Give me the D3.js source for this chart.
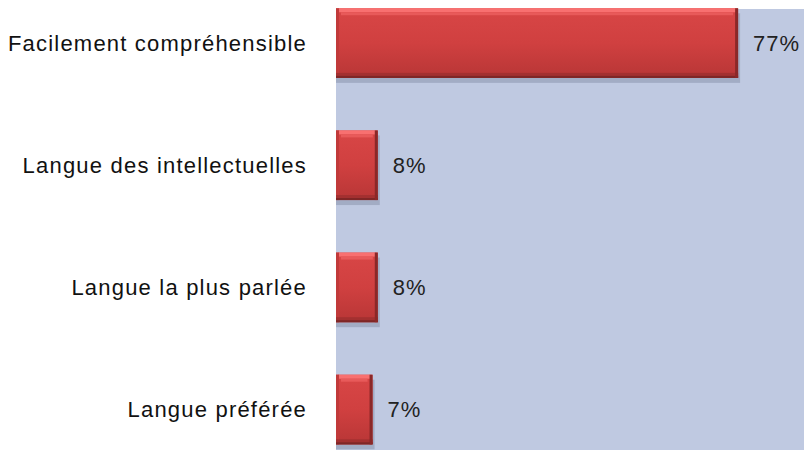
<!DOCTYPE html>
<html><head><meta charset="utf-8">
<script src="https://cdn.jsdelivr.net/npm/d3@7"></script>
<style>body{margin:0;background:#fff;}svg{display:block;}</style>
</head><body>
<svg id="c" width="804" height="450"></svg>
<script>
const categories = ["Facilement compréhensible","Langue des intellectuelles","Langue la plus parlée","Langue préférée"];
const values = [77, 8, 8, 7];
const valueLabels = ["77%","8%","8%","7%"];

const svg = d3.select("#c");
const x = d3.scaleLinear().domain([0, 90]).range([336, 806]);
const y = d3.scaleBand().domain(categories).range([-18, 470.6]).paddingInner(0.43).paddingOuter(0.215);

const defs = svg.append("defs");
const g1 = defs.append("linearGradient").attr("id","barg").attr("x1",0).attr("y1",0).attr("x2",0).attr("y2",1);
g1.append("stop").attr("offset","0").attr("stop-color","#d84646");
g1.append("stop").attr("offset","0.5").attr("stop-color","#d04040");
g1.append("stop").attr("offset","1").attr("stop-color","#b83636");

svg.append("rect").attr("x",336).attr("y",9).attr("width",804-336).attr("height",450-9).attr("fill","#bfc9e1");

const bars = svg.selectAll("g.bar").data(categories).join("g").attr("class","bar");
// shadow
bars.append("rect")
  .attr("x", x(0)).attr("y", d => y(d) + 5)
  .attr("width", (d,i) => x(values[i]) - x(0) + 2).attr("height", y.bandwidth())
  .attr("fill","#8a93ad").attr("opacity",0.55);
bars.append("rect")
  .attr("x", x(0)).attr("y", d => y(d))
  .attr("width", (d,i) => x(values[i]) - x(0)).attr("height", y.bandwidth())
  .attr("fill","url(#barg)");
// top highlight
bars.append("rect")
  .attr("x", x(0)+2).attr("y", d => y(d))
  .attr("width", (d,i) => x(values[i]) - x(0) - 4).attr("height", 4)
  .attr("fill","#f87070");
bars.append("rect")
  .attr("x", x(0)+5).attr("y", d => y(d)+4)
  .attr("width", (d,i) => x(values[i]) - x(0) - 10).attr("height", 3)
  .attr("fill","#e85a5a");
// left edge
bars.append("rect")
  .attr("x", x(0)).attr("y", d => y(d))
  .attr("width", 3).attr("height", y.bandwidth())
  .attr("fill","#c13a3a");
// bottom dark
bars.append("rect")
  .attr("x", x(0)).attr("y", d => y(d) + y.bandwidth() - 5)
  .attr("width", (d,i) => x(values[i]) - x(0)).attr("height", 5)
  .attr("fill","#a33030");
bars.append("rect")
  .attr("x", x(0)).attr("y", d => y(d) + y.bandwidth() - 2)
  .attr("width", (d,i) => x(values[i]) - x(0)).attr("height", 2)
  .attr("fill","#7e2626");
// right dark edge
bars.append("rect")
  .attr("x", (d,i) => x(values[i]) - 3).attr("y", d => y(d))
  .attr("width", 3).attr("height", y.bandwidth())
  .attr("fill","#8a2828");

// category labels
svg.selectAll("text.cat").data(categories).join("text").attr("class","cat")
  .attr("x", 307).attr("y", d => y(d) + y.bandwidth()/2)
  .attr("text-anchor","end").attr("dominant-baseline","central")
  .attr("font-family","Liberation Sans, Arial, sans-serif").attr("font-size",22)
  .attr("letter-spacing","1.2px")
  .attr("fill","#111").text(d => d);

// value labels
svg.selectAll("text.val").data(categories).join("text").attr("class","val")
  .attr("x", (d,i) => x(values[i]) + 15).attr("y", d => y(d) + y.bandwidth()/2)
  .attr("dominant-baseline","central")
  .attr("font-family","Liberation Sans, Arial, sans-serif").attr("font-size",22)
  .attr("letter-spacing","1px")
  .attr("fill","#222").text((d,i) => valueLabels[i]);
</script>
</body></html>
